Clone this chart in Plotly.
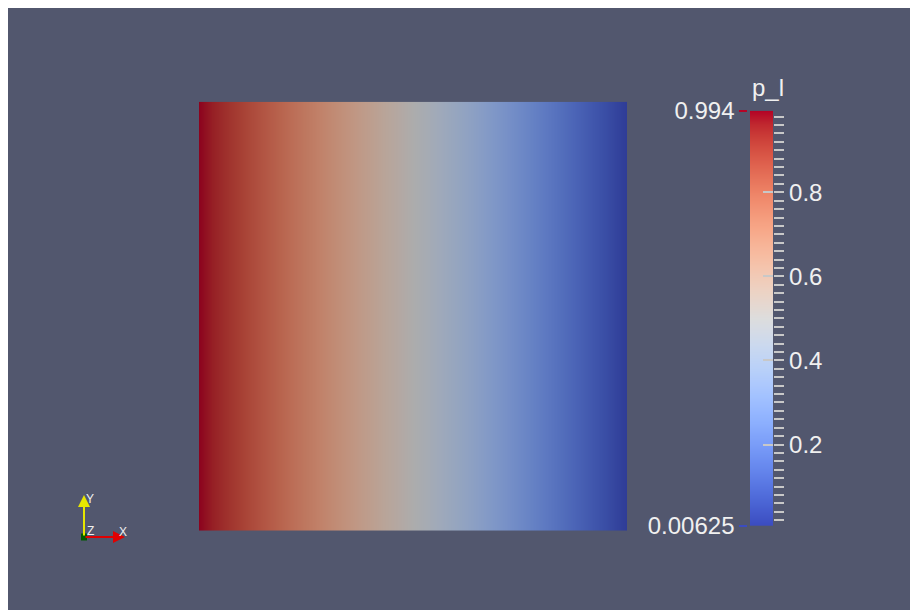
import plotly.graph_objects as go

# ---------------- data ----------------
x_pos = [0.0, 0.05, 0.10, 0.15, 0.20, 0.25, 0.30, 0.35, 0.40, 0.45, 0.50,
         0.55, 0.60, 0.65, 0.70, 0.75, 0.80, 0.85, 0.90, 0.95, 1.0]
p_l = [0.994, 0.945, 0.895, 0.846, 0.796, 0.747, 0.698, 0.648, 0.599, 0.549, 0.500,
       0.451, 0.401, 0.352, 0.303, 0.253, 0.204, 0.154, 0.105, 0.056, 0.00625]
y_pos = [0.0, 1.0]
p_min = 0.00625
p_max = 0.994
major_ticks = [0.2, 0.4, 0.6, 0.8]
major_labels = ["0.2", "0.4", "0.6", "0.8"]
bar_title = "p_l"

# ---------------- styles ----------------
COOL_TO_WARM = [
    (0.0, 59, 76, 192), (0.03125, 68, 90, 204), (0.0625, 77, 104, 215),
    (0.09375, 87, 117, 225), (0.125, 98, 130, 234), (0.15625, 108, 142, 241),
    (0.1875, 119, 154, 247), (0.21875, 130, 165, 251), (0.25, 141, 176, 254),
    (0.28125, 152, 185, 255), (0.3125, 163, 194, 255), (0.34375, 174, 201, 253),
    (0.375, 184, 208, 249), (0.40625, 194, 213, 244), (0.4375, 204, 217, 238),
    (0.46875, 213, 219, 230), (0.5, 221, 221, 221), (0.53125, 229, 216, 209),
    (0.5625, 236, 211, 197), (0.59375, 241, 204, 185), (0.625, 245, 196, 173),
    (0.65625, 247, 187, 160), (0.6875, 247, 177, 148), (0.71875, 247, 166, 135),
    (0.75, 244, 154, 123), (0.78125, 241, 141, 111), (0.8125, 236, 127, 99),
    (0.84375, 229, 112, 88), (0.875, 222, 96, 77), (0.90625, 213, 80, 66),
    (0.9375, 203, 62, 56), (0.96875, 192, 40, 47), (1.0, 180, 4, 38),
]
LIT = 0.78  # surface shading factor of the rendered slab


def scale(f):
    return [[p, f"rgb({round(r*f)},{round(g*f)},{round(b*f)})"] for p, r, g, b in COOL_TO_WARM]


BG = "#52576e"
TXT = "#f0f0f0"
TICK = "#c8c8c8"
FONT = "Liberation Sans, Arial, sans-serif"

W, H = 910, 602


def fx(px):
    return px / W


def fy(py):
    return 1 - py / H


# main slab (figure pixel box)
M_L, M_R, M_T, M_B = 191, 619, 93.7, 522.7
# color bar box
C_L, C_R, C_T, C_B = 742, 765.3, 102.7, 518

fig = go.Figure()

z_main = [p_l for _ in y_pos]
fig.add_trace(go.Heatmap(
    x=x_pos, y=y_pos, z=z_main, zmin=p_min, zmax=p_max,
    colorscale=scale(LIT), zsmooth="best", showscale=False,
    hoverinfo="skip", xaxis="x", yaxis="y"))

z_bar = [[p_min, p_min], [p_max, p_max]]
fig.add_trace(go.Heatmap(
    x=[0, 1], y=[p_min, p_max], z=z_bar, zmin=p_min, zmax=p_max,
    colorscale=scale(1.0), zsmooth="best", showscale=False,
    hoverinfo="skip", xaxis="x2", yaxis="y2"))

hidden = dict(showgrid=False, zeroline=False, showline=False,
              showticklabels=False, ticks="", fixedrange=True, automargin=False)
rng = [p_min - 1e-4, p_max + 1e-4]
bar_common = dict(showgrid=False, zeroline=False, showline=False, range=rng,
                  fixedrange=True, automargin=False)

fig.update_layout(
    template="none",
    width=W, height=H,
    margin=dict(l=0, r=0, t=0, b=0, pad=0, autoexpand=False),
    paper_bgcolor=BG, plot_bgcolor=BG,
    showlegend=False,
    xaxis=dict(domain=[fx(M_L), fx(M_R)], range=[0, 1], anchor="y", **hidden),
    yaxis=dict(domain=[fy(M_B), fy(M_T)], range=[0, 1], anchor="x", **hidden),
    xaxis2=dict(domain=[fx(C_L), fx(C_R)], range=[0, 1], anchor="y2", **hidden),
    yaxis2=dict(domain=[fy(C_B), fy(C_T)], anchor="x2", side="right",
                tickmode="array", tickvals=major_ticks, ticktext=major_labels,
                ticks="outside", ticklen=10, tickwidth=1.5, tickcolor=TICK,
                tickfont=dict(family=FONT, size=24, color=TXT),
                minor=dict(dtick=0.02, tick0=0, ticks="outside", ticklen=10,
                           tickwidth=1.5, tickcolor=TICK),
                **bar_common),
    yaxis3=dict(overlaying="y2", anchor="x2", side="right",
                tickmode="array", tickvals=major_ticks, showticklabels=False,
                ticks="inside", ticklen=10, tickwidth=1.5, tickcolor=TICK,
                **bar_common),
    yaxis4=dict(overlaying="y2", anchor="free", position=fx(739.3), side="left",
                tickmode="array", tickvals=[p_max], ticktext=[f"{p_max:g}"],
                ticks="outside", ticklen=8, tickwidth=1.5, tickcolor="#b40426",
                tickfont=dict(family=FONT, size=24, color=TXT),
                **bar_common),
    yaxis5=dict(overlaying="y2", anchor="free", position=fx(739.3), side="left",
                tickmode="array", tickvals=[p_min], ticktext=[f"{p_min:g}"],
                ticks="outside", ticklen=8, tickwidth=1.5, tickcolor="#3b4cc0",
                tickfont=dict(family=FONT, size=24, color=TXT),
                **bar_common),
)

# dummy traces so overlay axes are drawn
for ya in ["y3", "y4", "y5"]:
    fig.add_trace(go.Scatter(x=[None], y=[None], xaxis="x2", yaxis=ya,
                             mode="markers", hoverinfo="skip", showlegend=False))

annotations = [
    dict(text=bar_title, x=fx(760), y=fy(80), xref="paper", yref="paper",
         xanchor="center", yanchor="middle", showarrow=False,
         font=dict(family=FONT, size=24, color=TXT)),
    # orientation triad
    dict(text="", x=fx(76), y=fy(487), xref="paper", yref="paper",
         showarrow=True, ax=0, ay=42, arrowhead=2, arrowsize=1.2,
         arrowwidth=2, arrowcolor="#e6e600", standoff=0, startstandoff=0),
    dict(text="", x=fx(117), y=fy(529), xref="paper", yref="paper",
         showarrow=True, ax=-41, ay=0, arrowhead=2, arrowsize=1.2,
         arrowwidth=2, arrowcolor="#e00000", standoff=0, startstandoff=0),
    dict(text="Y", x=fx(82), y=fy(491), xref="paper", yref="paper",
         xanchor="center", yanchor="middle", showarrow=False,
         font=dict(family=FONT, size=12, color=TXT)),
    dict(text="Z", x=fx(82), y=fy(523), xref="paper", yref="paper",
         xanchor="center", yanchor="middle", showarrow=False,
         font=dict(family=FONT, size=12, color=TXT)),
    dict(text="X", x=fx(115), y=fy(524), xref="paper", yref="paper",
         xanchor="center", yanchor="middle", showarrow=False,
         font=dict(family=FONT, size=12, color=TXT)),
]
fig.update_layout(annotations=annotations)

fig.add_shape(type="rect", xref="paper", yref="paper",
              x0=fx(73), x1=fx(79), y0=fy(532.5), y1=fy(525.5),
              fillcolor="#005a00", line=dict(width=0))

fig.write_html("out.html")
